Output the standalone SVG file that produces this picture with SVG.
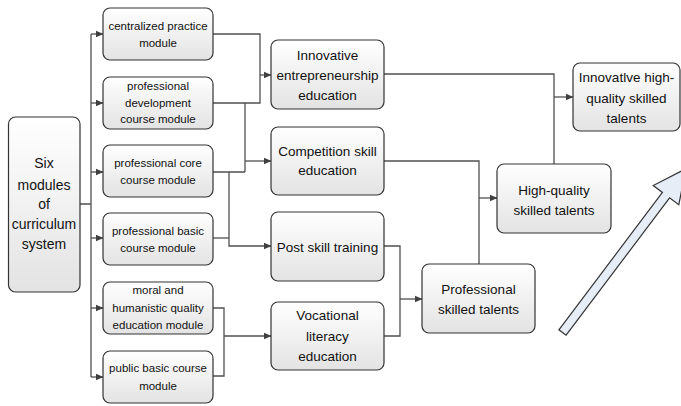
<svg xmlns="http://www.w3.org/2000/svg" width="681" height="406" viewBox="0 0 681 406">
<defs>
<linearGradient id="g" x1="0" y1="0" x2="0" y2="1">
<stop offset="0" stop-color="#ffffff"/>
<stop offset="1" stop-color="#e3e3e3"/>
</linearGradient>
<marker id="ah" markerWidth="8" markerHeight="8" refX="7" refY="4" orient="auto" markerUnits="userSpaceOnUse">
<path d="M0,0.8 L7.5,4 L0,7.2 Z" fill="#404040"/>
</marker>
<style>
.box{fill:url(#g);stroke:#333;stroke-width:1.2}
.t{font-family:"Liberation Sans",Arial,sans-serif;fill:#111;text-anchor:middle}
.s{font-size:11.5px}
.m{font-size:13.5px}
.l{font-size:14px}
.c{fill:none;stroke:#505050;stroke-width:1.3}
.a{marker-end:url(#ah)}
</style>
</defs>
<rect width="681" height="406" fill="#ffffff"/>

<g id="connectors">
<path class="c" d="M80,204 H91 M91,34 V377"/>
<path class="c a" d="M91,34 H103"/>
<path class="c a" d="M91,103 H103"/>
<path class="c a" d="M91,172 H103"/>
<path class="c a" d="M91,238 H103"/>
<path class="c a" d="M91,308 H103"/>
<path class="c a" d="M91,377 H103"/>
<path class="c" d="M213,34 H260 V103 H213"/>
<path class="c a" d="M260,75 H271"/>
<path class="c" d="M245,103 V172 M213,172 H245"/>
<path class="c a" d="M245,161 H271"/>
<path class="c a" d="M229,172 V246 H271"/>
<path class="c" d="M213,238 H229"/>
<path class="c" d="M213,308 H224 V376 H213"/>
<path class="c a" d="M224,336 H271"/>
<path class="c" d="M384,246 H400 V336 H384"/>
<path class="c a" d="M400,299 H422"/>
<path class="c" d="M384,161 H479 V264"/>
<path class="c a" d="M479,198 H497"/>
<path class="c" d="M384,74 H554 V164"/>
<path class="c a" d="M554,97 H573"/>
</g>

<g id="six-modules">
<rect class="box" x="8.5" y="117" width="71.5" height="175" rx="7"/>
<text class="t l" x="44" y="168">Six</text>
<text class="t l" x="44" y="190">modules</text>
<text class="t l" x="44" y="209">of</text>
<text class="t l" x="44" y="229">curriculum</text>
<text class="t l" x="44" y="249">system</text>
</g>

<g id="centralized">
<rect class="box" x="103" y="8" width="110" height="52" rx="7"/>
<text class="t s" x="158" y="30">centralized practice</text>
<text class="t s" x="158" y="47">module</text>
</g>
<g id="development">
<rect class="box" x="103" y="77" width="110" height="52" rx="7"/>
<text class="t s" x="158" y="90">professional</text>
<text class="t s" x="158" y="107">development</text>
<text class="t s" x="158" y="123">course module</text>
</g>
<g id="core">
<rect class="box" x="103" y="145" width="110" height="52" rx="7"/>
<text class="t s" x="158" y="167">professional core</text>
<text class="t s" x="158" y="184">course module</text>
</g>
<g id="basic">
<rect class="box" x="103" y="213" width="110" height="52" rx="7"/>
<text class="t s" x="158" y="235">professional basic</text>
<text class="t s" x="158" y="252">course module</text>
</g>
<g id="moral">
<rect class="box" x="103" y="282" width="110" height="52" rx="7"/>
<text class="t s" x="158" y="294">moral and</text>
<text class="t s" x="158" y="312">humanistic quality</text>
<text class="t s" x="158" y="329">education module</text>
</g>
<g id="public">
<rect class="box" x="103" y="351" width="110" height="52" rx="7"/>
<text class="t s" x="158" y="372">public basic course</text>
<text class="t s" x="158" y="390">module</text>
</g>

<g id="innovative-entrepreneurship">
<rect class="box" x="271" y="40" width="113" height="69" rx="7"/>
<text class="t m" x="327.5" y="60">Innovative</text>
<text class="t m" x="327.5" y="80">entrepreneurship</text>
<text class="t m" x="327.5" y="100">education</text>
</g>
<g id="competition">
<rect class="box" x="271" y="127" width="113" height="68" rx="7"/>
<text class="t m" x="327.5" y="156">Competition skill</text>
<text class="t m" x="327.5" y="175">education</text>
</g>
<g id="post-skill">
<rect class="box" x="271" y="212" width="113" height="69" rx="7"/>
<text class="t m" x="327.5" y="252">Post skill training</text>
</g>
<g id="vocational">
<rect class="box" x="271" y="302" width="113" height="68" rx="7"/>
<text class="t m" x="327.5" y="320">Vocational</text>
<text class="t m" x="327.5" y="341">literacy</text>
<text class="t m" x="327.5" y="361">education</text>
</g>

<g id="professional-skilled">
<rect class="box" x="422" y="264" width="113" height="69" rx="7"/>
<text class="t m" x="478.5" y="294">Professional</text>
<text class="t m" x="478.5" y="314">skilled talents</text>
</g>
<g id="high-quality">
<rect class="box" x="497" y="164" width="114" height="69" rx="7"/>
<text class="t m" x="554" y="195">High-quality</text>
<text class="t m" x="554" y="215">skilled talents</text>
</g>
<g id="innovative-high">
<rect class="box" x="573" y="63" width="107" height="68" rx="7"/>
<text class="t m" x="626.5" y="82">Innovatlve high-</text>
<text class="t m" x="626.5" y="103">quality skilled</text>
<text class="t m" x="626.5" y="123">talents</text>
</g>

<g id="big-arrow">
<path transform="translate(562.5,332.5) rotate(-53)" d="M0,-4.5 L172,-4.5 L172,-16 L205,0 L172,16 L172,4.5 L0,4.5 Z" fill="#e6edf7" stroke="#333" stroke-width="1.2" stroke-linejoin="miter"/>
</g>
</svg>
